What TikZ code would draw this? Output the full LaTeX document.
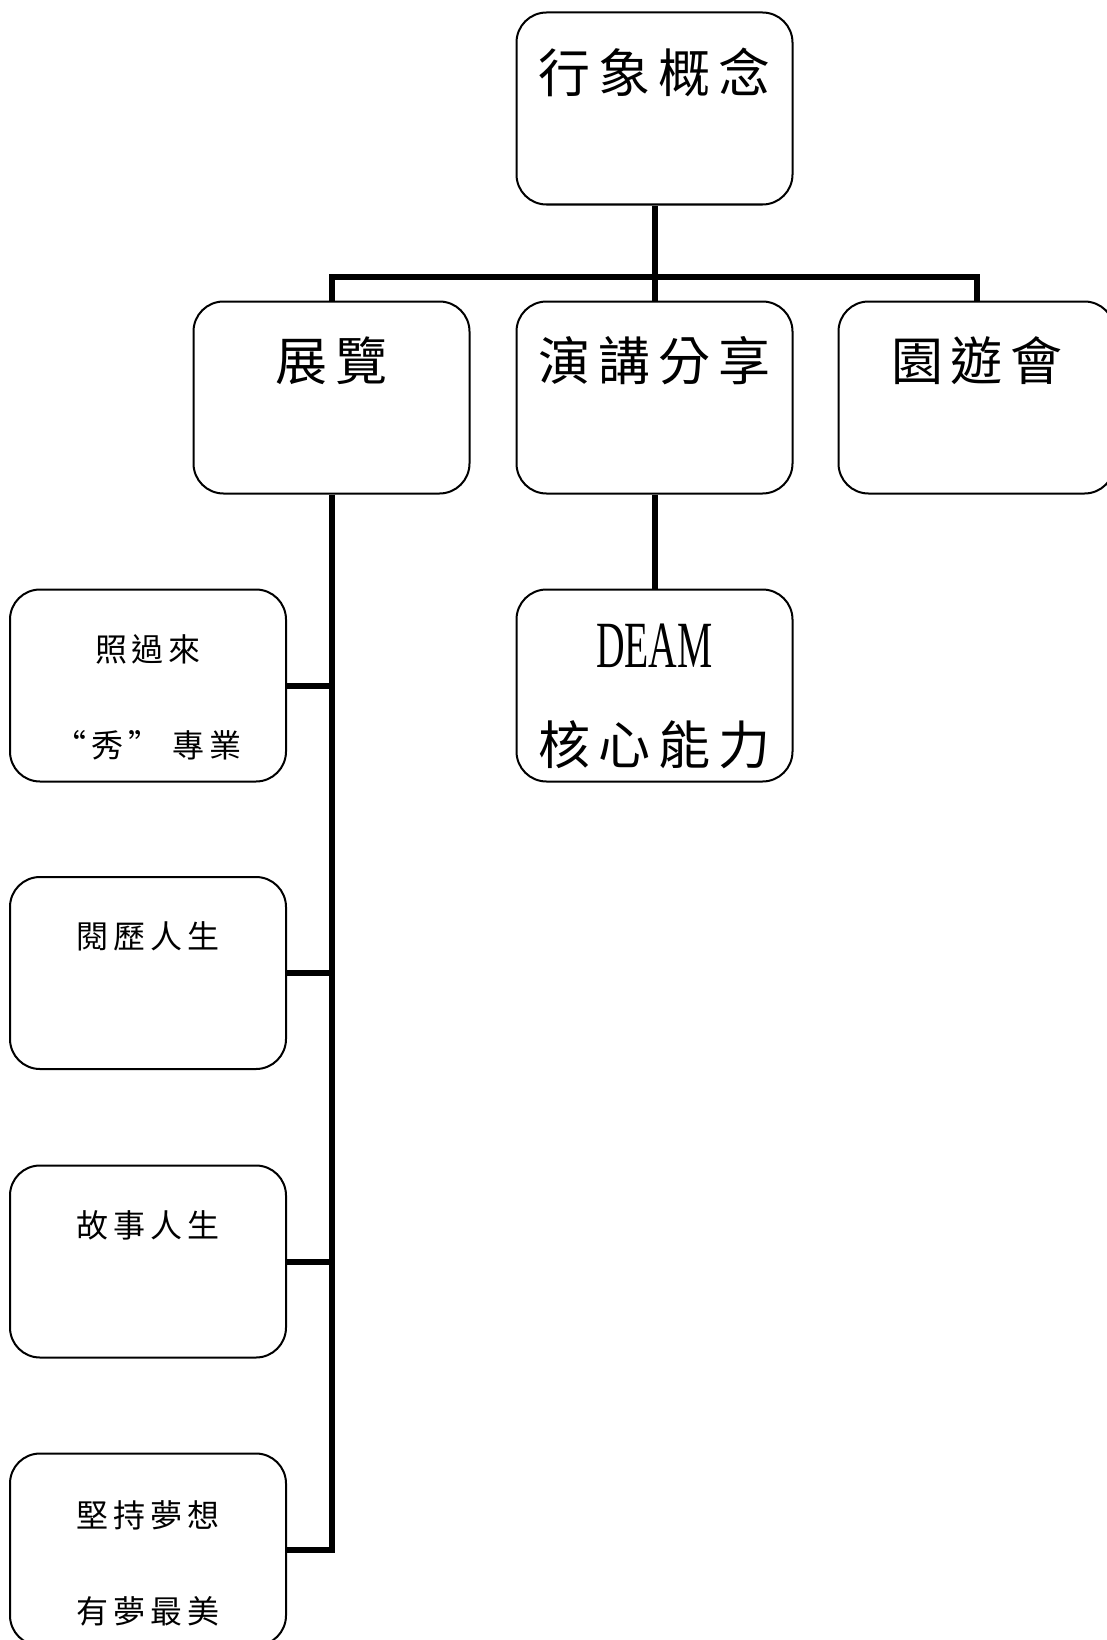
\documentclass[tikz,border=0pt]{standalone}
\usepackage{fontspec}
\usepackage{graphicx}
\setmainfont{Liberation Serif}
\newfontfamily\cjk[LetterSpace=15]{Noto Sans CJK TC}
\begin{document}
\begin{tikzpicture}[x=1pt,y=-1pt,
 box/.style={draw, line width=2pt, rounded corners=30pt, minimum width=276pt, minimum height=192pt, inner sep=0pt},
 conn/.style={line width=6pt, line join=miter},
 big/.style={font=\cjk\fontsize{52}{62}\selectfont, inner sep=0pt},
 small/.style={font=\cjk\fontsize{32}{38}\selectfont, inner sep=0pt}]
\clip (0,0) rectangle (1107,1640);
\fill[white] (0,0) rectangle (1107,1640);
% boxes
\node[box] (top) at (654.5,108.5) {};
\node[box] (zhan) at (331.5,397.5) {};
\node[box] (yan) at (654.5,397.5) {};
\node[box] (yuan) at (976.5,397.5) {};
\node[box] (deam) at (654.5,685.5) {};
\node[box] (s1) at (148,685.5) {};
\node[box] (s2) at (148,973) {};
\node[box] (s3) at (148,1261.5) {};
\node[box] (s4) at (148,1549.5) {};
% texts
\node[big] (topt) at (654.5,72) {行象概念};
\node[big] (zhant) at (331.5,361) {展覽};
\node[big] (yant) at (654.5,361) {演講分享};
\node[big] (yuant) at (977,361) {園遊會};
\node[big] (deamt1) at (654.5,646) {\rmfamily\fontsize{66}{70}\selectfont\scalebox{0.6}[1]{DEAM}};
\node[big] (deamt2) at (654.5,745) {核心能力};
\node[small] (s1a) at (148,649) {照過來};
\node[small] (s1b) at (148,745) {“秀” 專業};
\node[small] (s2a) at (148,936) {閱歷人生};
\node[small] (s3a) at (148,1225) {故事人生};
\node[small] (s4a) at (148,1515) {堅持夢想};
\node[small] (s4b) at (148,1611) {有夢最美};
% connectors
\coordinate (bar) at (654.5,277);
\draw[conn] (top.south) -- (yan.north);
\draw[conn] (zhan.north) |- (bar) -| (yuan.north);
\draw[conn] (yan.south) -- (deam.north);
\draw[conn] (zhan.south) |- (s4.east);
\foreach \n in {s1,s2,s3} \draw[conn] (\n.east) -- (\n.east -| zhan.south);
\end{tikzpicture}
\end{document}
